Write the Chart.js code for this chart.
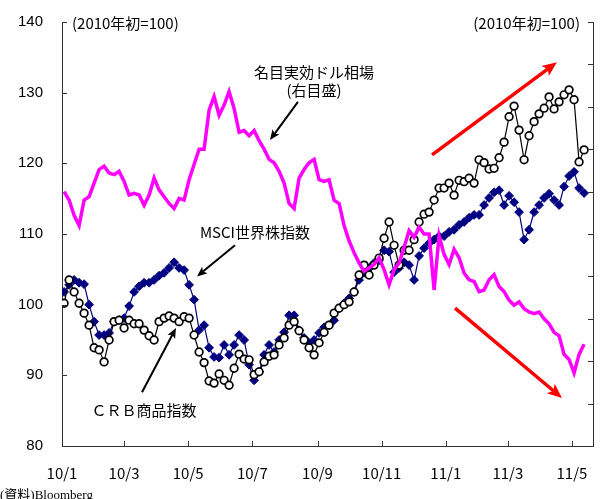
<!DOCTYPE html>
<html>
<head>
<meta charset="utf-8">
<script src="https://cdn.jsdelivr.net/npm/chart.js@4.4.1/dist/chart.umd.min.js"></script>
<style>
  body { margin: 0; background: #fff; overflow: hidden; }
  canvas { display: block; }
</style>
</head>
<body>
<canvas id="c" width="605" height="499"></canvas>
<script>
// x axis: days since 2010-01-01, ticks every two months
const monthTickDays = [0, 59, 120, 181, 243, 304, 365, 424, 485];
const monthTickLabels = ['10/1', '10/3', '10/5', '10/7', '10/9', '10/11', '11/1', '11/3', '11/5'];

// samples, about every 3-4 trading days from 2010-01-04
const firstDay = 2;
const stepDays = 4.755;

// CRB商品指数 (left axis, 2010年初=100)
const crb = [100.2, 103.5, 101.8, 100.2, 98.8, 97.1, 93.9, 93.6, 91.9, 95.0,
  97.6, 97.8, 96.7, 97.8, 97.3, 97.3, 96.4, 95.6, 95.0, 97.6,
  98.1, 98.4, 98.1, 97.6, 98.3, 98.1, 95.7, 93.3, 91.8, 89.2,
  88.9, 90.2, 89.3, 88.6, 91.0, 93.0, 92.3, 92.2, 90.1, 90.5,
  91.9, 92.7, 92.9, 94.3, 95.3, 97.1, 97.6, 96.3, 95.0, 93.9,
  92.9, 94.6, 96.1, 97.1, 98.8, 99.5, 100.0, 100.4, 101.8, 104.2,
  105.6, 104.2, 105.6, 106.6, 109.4, 111.7, 108.4, 105.6, 107.7, 107.7,
  109.2, 111.7, 112.8, 113.1, 114.8, 116.5, 116.5, 117.2, 115.5, 117.6,
  117.4, 117.9, 117.2, 120.5, 120.1, 119.2, 119.3, 120.8, 123.0, 126.6,
  128.1, 124.7, 120.5, 123.9, 125.9, 127.0, 127.8, 129.4, 127.7, 128.7,
  129.7, 130.4, 129.0, 120.2, 121.9];

// MSCI世界株指数 (left axis)
const msci = [101.8, 102.8, 103.5, 103.1, 102.9, 100.0, 97.6, 95.7, 95.7, 96.0,
  97.6, 97.8, 98.1, 99.8, 101.8, 102.6, 103.1, 103.1, 103.5, 104.1,
  104.5, 105.2, 106.0, 105.2, 104.9, 102.8, 100.7, 96.4, 97.1, 93.9,
  92.6, 92.5, 94.3, 92.9, 94.3, 95.7, 95.0, 91.5, 89.3, 90.5,
  92.9, 94.3, 93.3, 95.0, 96.1, 98.5, 98.5, 96.4, 95.3, 94.6,
  95.0, 96.0, 96.8, 97.1, 97.8, 99.5, 100.2, 100.9, 101.8, 103.5,
  104.5, 105.2, 105.9, 106.3, 107.7, 107.5, 104.6, 105.2, 106.0, 105.6,
  103.5, 106.9, 108.0, 108.7, 109.2, 109.7, 109.7, 110.3, 110.6, 111.3,
  111.7, 112.3, 112.7, 112.7, 114.1, 115.1, 115.9, 116.2, 114.1, 115.4,
  114.5, 113.1, 109.2, 110.6, 113.1, 114.1, 115.1, 115.7, 114.8, 114.1,
  116.7, 118.2, 118.8, 116.5, 115.8];

// 名目実効ドル相場 (right axis)
const dollar = [100.0, 99.5, 98.6, 98.0, 99.5, 99.7, 100.5, 101.3, 101.5, 101.1,
  101.0, 101.2, 100.6, 99.8, 99.9, 99.8, 99.2, 99.8, 100.8, 100.1,
  99.7, 99.3, 99.0, 99.6, 99.5, 100.7, 101.6, 102.5, 102.5, 104.8,
  105.6, 104.5, 105.1, 105.9, 104.9, 103.5, 103.6, 103.3, 103.6, 103.0,
  102.5, 101.9, 101.7, 101.2, 100.5, 99.3, 99.0, 100.8, 101.3, 101.7,
  101.9, 100.7, 100.6, 100.7, 99.5, 99.3, 98.0, 97.1, 96.4, 95.8,
  95.3, 95.5, 95.7, 96.1, 95.4, 94.5, 95.4, 95.8, 96.7, 97.7,
  97.3, 97.9, 97.5, 97.5, 94.2, 97.4, 96.3, 95.7, 96.6, 96.1,
  95.2, 94.8, 94.7, 94.1, 94.2, 94.8, 95.1, 94.4, 94.1, 93.6,
  93.3, 93.5, 93.1, 92.9, 92.8, 92.9, 92.5, 92.2, 91.7, 91.5,
  90.4, 90.1, 89.3, 90.4, 91.0];

function toPoints(values) {
  return values.map((v, i) => ({ x: firstDay + i * stepDays, y: v }));
}

// annotations, in (day, left-axis value)
const labels = [
  { text: '名目実効ドル相場', day: 239.7, val: 132.9 },
  { text: '(右目盛)', day: 239.7, val: 130.4 },
  { text: 'MSCI世界株指数', day: 183.5, val: 110.3 },
  { text: 'ＣＲＢ商品指数', day: 78, val: 85.0 }
];
const arrows = [
  { from: [224.4, 128.7], to: [197.8, 123.3], color: '#000', width: 2, head: 11 },
  { from: [164.5, 108.4], to: [128.4, 104.0], color: '#000', width: 2, head: 11 },
  { from: [76.1, 87.6], to: [108.4, 96.7], color: '#000', width: 2, head: 11 },
  { from: [351.9, 121.2], to: [470.7, 134.3], color: '#ff0000', width: 3.5, head: 16 },
  { from: [373.8, 99.5], to: [475.5, 86.8], color: '#ff0000', width: 3.5, head: 16 }
];

const jpFont = '"Noto Sans CJK JP", sans-serif';

function drawArrow(ctx, x1, y1, x2, y2, color, width, head) {
  const ang = Math.atan2(y2 - y1, x2 - x1);
  ctx.save();
  ctx.strokeStyle = color;
  ctx.fillStyle = color;
  ctx.lineWidth = width;
  ctx.beginPath();
  ctx.moveTo(x1, y1);
  ctx.lineTo(x2 - Math.cos(ang) * head * 0.7, y2 - Math.sin(ang) * head * 0.7);
  ctx.stroke();
  ctx.beginPath();
  ctx.moveTo(x2, y2);
  ctx.lineTo(x2 - head * Math.cos(ang - 0.4), y2 - head * Math.sin(ang - 0.4));
  ctx.lineTo(x2 - head * 0.7 * Math.cos(ang), y2 - head * 0.7 * Math.sin(ang));
  ctx.lineTo(x2 - head * Math.cos(ang + 0.4), y2 - head * Math.sin(ang + 0.4));
  ctx.closePath();
  ctx.fill();
  ctx.restore();
}

const extras = {
  id: 'extras',
  afterDraw(chart) {
    const { ctx, chartArea: a, scales } = chart;
    const x = scales.x, y = scales.y, y2 = scales.y2;
    ctx.save();
    // inward tick marks
    ctx.strokeStyle = '#333';
    ctx.lineWidth = 1;
    ctx.beginPath();
    y.ticks.forEach(t => {
      const py = Math.round(y.getPixelForValue(t.value)) + 0.5;
      ctx.moveTo(a.left, py); ctx.lineTo(a.left + 5, py);
    });
    y2.ticks.forEach(t => {
      const py = Math.round(y2.getPixelForValue(t.value)) + 0.5;
      ctx.moveTo(a.right, py); ctx.lineTo(a.right - 5, py);
    });
    monthTickDays.forEach(d => {
      const px = Math.round(x.getPixelForValue(d)) + 0.5;
      ctx.moveTo(px, a.bottom); ctx.lineTo(px, a.bottom - 5);
    });
    ctx.stroke();

    // unit notes
    ctx.fillStyle = '#000';
    ctx.font = '15px ' + jpFont;
    ctx.textBaseline = 'middle';
    ctx.textAlign = 'left';
    ctx.fillText('(2010年初=100)', a.left + 10, a.top + 1);
    ctx.textAlign = 'right';
    ctx.fillText('(2010年初=100)', a.right - 13, a.top + 1);

    // series labels
    ctx.font = '15px ' + jpFont;
    ctx.textAlign = 'center';
    labels.forEach(l => {
      ctx.fillText(l.text, x.getPixelForValue(l.day), y.getPixelForValue(l.val));
    });
    arrows.forEach(ar => {
      drawArrow(ctx,
        x.getPixelForValue(ar.from[0]), y.getPixelForValue(ar.from[1]),
        x.getPixelForValue(ar.to[0]), y.getPixelForValue(ar.to[1]),
        ar.color, ar.width, ar.head);
    });

    // source
    ctx.font = '13px "Liberation Serif", ' + jpFont;
    ctx.textAlign = 'left';
    ctx.textBaseline = 'top';
    ctx.fillText('(資料)Bloomberg', 0, a.bottom + 43);
    ctx.restore();
  }
};

const noPad = s => { s.paddingTop = 0; s.paddingBottom = 0; };

new Chart(document.getElementById('c'), {
  type: 'line',
  data: {
    datasets: [
      {
        label: '名目実効ドル相場',
        data: toPoints(dollar),
        yAxisID: 'y2',
        borderColor: '#ff00ff',
        borderWidth: 3.5,
        pointRadius: 0,
        order: 0
      },
      {
        label: 'CRB商品指数',
        data: toPoints(crb),
        yAxisID: 'y',
        borderColor: '#000',
        borderWidth: 1.2,
        pointStyle: 'circle',
        pointRadius: 3.8,
        pointBorderWidth: 1.7,
        pointBackgroundColor: '#fff',
        pointBorderColor: '#000',
        order: 1
      },
      {
        label: 'MSCI世界株指数',
        data: toPoints(msci),
        yAxisID: 'y',
        borderColor: '#000080',
        borderWidth: 1.2,
        pointStyle: 'rectRot',
        pointRadius: 4.4,
        pointBorderWidth: 1,
        pointBackgroundColor: '#000080',
        pointBorderColor: '#000080',
        order: 2
      }
    ]
  },
  options: {
    responsive: false,
    animation: false,
    devicePixelRatio: 1,
    layout: { padding: { top: 22, left: 0, right: 0, bottom: 0 } },
    plugins: { legend: { display: false }, tooltip: { enabled: false } },
    elements: { line: { tension: 0 } },
    scales: {
      x: {
        type: 'linear',
        min: 0,
        max: 505,
        afterBuildTicks: s => { s.ticks = monthTickDays.map(v => ({ value: v })); },
        afterFit: s => { s.height = 53; s.paddingLeft = 0; s.paddingRight = 0; },
        grid: { display: false, drawTicks: false },
        border: { display: true, color: '#333', width: 1 },
        ticks: {
          autoSkip: false,
          maxRotation: 0,
          padding: 18,
          color: '#000',
          font: { family: jpFont, size: 15 },
          callback: (v, i) => monthTickLabels[i]
        }
      },
      y: {
        position: 'left',
        min: 80,
        max: 140,
        afterFit: s => { s.width = 62; noPad(s); },
        grid: { display: false, drawTicks: false },
        border: { display: true, color: '#333', width: 1 },
        ticks: {
          stepSize: 10,
          padding: 19,
          color: '#000',
          font: { family: '"Liberation Sans", Arial, sans-serif', size: 15 }
        }
      },
      y2: {
        position: 'right',
        min: 85,
        max: 110,
        afterFit: s => { s.width = 12; noPad(s); },
        grid: { display: false, drawTicks: false },
        border: { display: true, color: '#333', width: 1 },
        ticks: { stepSize: 2.5, display: false }
      }
    }
  },
  plugins: [extras]
});
</script>
</body>
</html>
